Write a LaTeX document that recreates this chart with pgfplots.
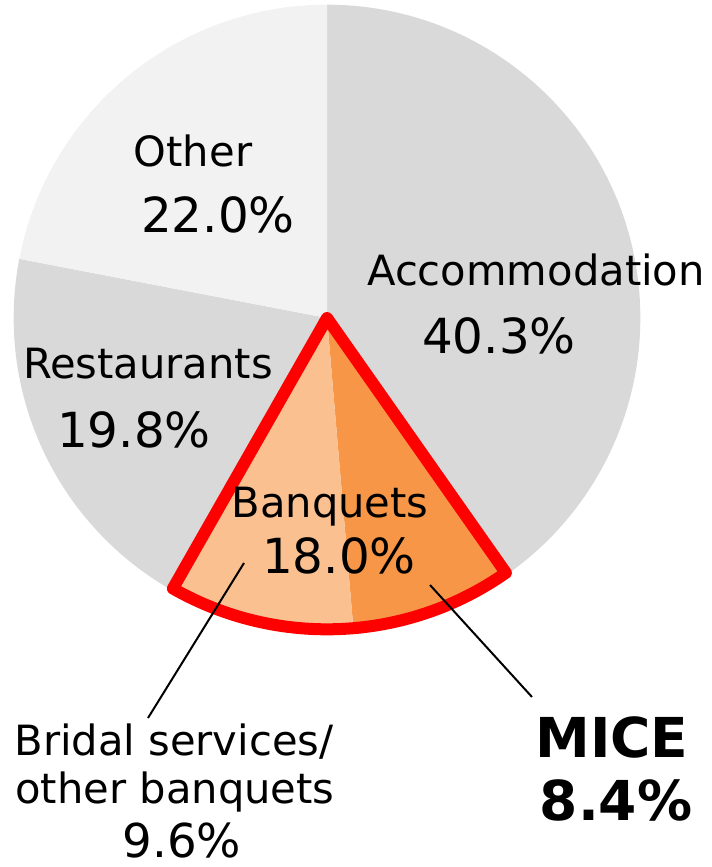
\documentclass[border=0pt]{standalone}
\usepackage{pgfplots}
\usepackage{pgfplotstable}
\pgfplotsset{compat=1.18}
\usepackage{fontspec}
\setmainfont{DejaVu Sans}
\definecolor{slgray}{HTML}{D9D9D9}
\definecolor{slother}{HTML}{F2F2F2}
\definecolor{slmice}{HTML}{F79646}
\definecolor{slbridal}{HTML}{FAC090}
\definecolor{slred}{HTML}{FF0000}

\pgfplotstableread{
label value
Accommodation 40.3
MICE 8.4
Bridal 9.6
Restaurants 19.8
Other 22.0
}\piedata

\begin{document}%
\begin{tikzpicture}
\pgfplotstablegetelem{0}{value}\of\piedata \let\vA\pgfplotsretval
\pgfplotstablegetelem{1}{value}\of\piedata \let\vB\pgfplotsretval
\pgfplotstablegetelem{2}{value}\of\piedata \let\vC\pgfplotsretval
\pgfplotstablegetelem{3}{value}\of\piedata \let\vD\pgfplotsretval
\pgfplotstablegetelem{4}{value}\of\piedata \let\vE\pgfplotsretval
\pgfmathsetmacro\tot{\vA+\vB+\vC+\vD+\vE}
\pgfmathsetmacro\aA{90}
\pgfmathsetmacro\aB{\aA-360*\vA/\tot}
\pgfmathsetmacro\aC{\aB-360*\vB/\tot}
\pgfmathsetmacro\aD{\aC-360*\vC/\tot}
\pgfmathsetmacro\aE{\aD-360*\vD/\tot}
\pgfmathsetmacro\aF{\aE-360*\vE/\tot}
\def\R{94.0pt}
\def\Rr{93.4pt}
\begin{axis}[
  x=0.3pt, y=0.3pt,
  xmin=0, xmax=711, ymin=0, ymax=867,
  y dir=reverse,
  hide axis, clip=false,
]
\coordinate (TL) at (axis cs:0,0);
\coordinate (BR) at (axis cs:711,867);
% slices
\fill[slgray] (axis cs:327,318) -- ++(\aA:\R) arc[start angle=\aA, end angle=\aB, radius=\R] -- cycle;
\fill[slmice] (axis cs:327,318) -- ++(\aB:\R) arc[start angle=\aB, end angle=\aC, radius=\R] -- cycle;
\fill[slbridal] (axis cs:327,318) -- ++(\aC:\R) arc[start angle=\aC, end angle=\aD, radius=\R] -- cycle;
\fill[slgray] (axis cs:327,318) -- ++(\aD:\R) arc[start angle=\aD, end angle=\aE, radius=\R] -- cycle;
\fill[slother] (axis cs:327,318) -- ++(\aE:\R) arc[start angle=\aE, end angle=\aF, radius=\R] -- cycle;
% banquets outline
\draw[slred, line width=3.6pt, line join=round] (axis cs:327,318) -- ++(\aB:\Rr) arc[start angle=\aB, end angle=\aD, radius=\Rr] -- cycle;
% leader lines
\draw[black, line width=0.6pt] (axis cs:244,563) -- (axis cs:148,718);
\draw[black, line width=0.6pt] (axis cs:430,585) -- (axis cs:532,697);
% labels
\begin{scope}[every node/.style={anchor=base, inner sep=0pt, font=\fontsize{12.5}{15}\selectfont}]
\node at (axis cs:193,167) {Other};
\node[font=\fontsize{14.5}{17}\selectfont] at (axis cs:218,232) {22.0\%};
\node at (axis cs:536,285) {Accommodation};
\node[font=\fontsize{14.5}{17}\selectfont] at (axis cs:499,353) {40.3\%};
\node at (axis cs:148,378) {Restaurants};
\node[font=\fontsize{14.5}{17}\selectfont] at (axis cs:134,447) {19.8\%};
\node at (axis cs:330,517) {Banquets};
\node[font=\fontsize{14.5}{17}\selectfont] at (axis cs:339,573) {18.0\%};
\node at (axis cs:174,755) {Bridal services/};
\node at (axis cs:175,803) {other banquets};
\node[font=\fontsize{14}{17}\selectfont] at (axis cs:182,857) {9.6\%};
\node[font=\fontsize{16.5}{19}\selectfont\bfseries] at (axis cs:612,757) {MICE};
\node[font=\fontsize{16.5}{19}\selectfont\bfseries] at (axis cs:616,820) {8.4\%};
\end{scope}
\end{axis}
\pgfresetboundingbox
\path (TL) rectangle (BR);
\end{tikzpicture}%
\end{document}
